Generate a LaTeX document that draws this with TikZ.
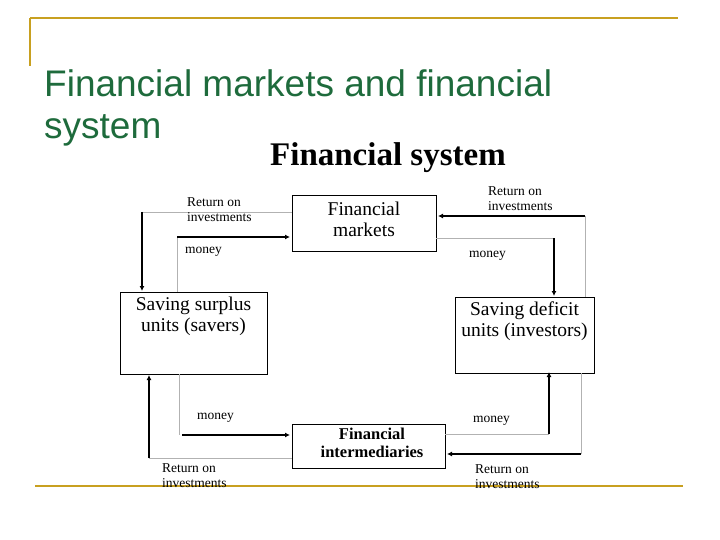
\documentclass[tikz,border=0pt]{standalone}
\usepackage{fontspec}
\setmainfont{Liberation Serif}
\newfontfamily\titlefont{Liberation Sans}
\usetikzlibrary{arrows.meta}
\definecolor{gold}{HTML}{C8A020}
\definecolor{tgreen}{HTML}{1E6B3C}
\begin{document}
\begin{tikzpicture}[x=1pt,y=-1pt,
  box/.style={draw,line width=0.7pt,inner sep=0pt},
  thin/.style={draw=gray!60,line width=0.6pt},
  arr/.style={draw,line width=1.4pt,-{Latex[length=5pt,width=5pt]}},
  lbl/.style={font=\fontsize{13.5}{15}\selectfont,anchor=west,align=left,inner sep=0pt},
  btxt/.style={font=\fontsize{19.5}{21}\selectfont,align=center,inner sep=0pt}]
\useasboundingbox (0,0) rectangle (720,540);
\fill[white] (0,0) rectangle (720,540);
\draw[gold,line width=2.5pt] (30,18) -- (678,18);
\draw[gold,line width=2.5pt] (30,18) -- (30,66);
\draw[gold,line width=2.5pt] (35,486) -- (683,486);
\node[anchor=base west,inner sep=0pt,text=tgreen,font=\titlefont\fontsize{37}{42}\selectfont] (title) at (44,97) {Financial markets and financial};
\node[anchor=base west,inner sep=0pt,text=tgreen,font=\titlefont\fontsize{37}{42}\selectfont] (title2) at (44,139) {system};
\node[font=\bfseries\fontsize{33}{36}\selectfont,inner sep=0pt,anchor=base] (sub) at (388,166) {Financial system};
% boxes
\node[box,minimum width=144pt,minimum height=56pt] (fm) at (364,223) {};
\node[btxt] at (364,219) {Financial\\markets};
\node[box,minimum width=147pt,minimum height=82pt] (sv) at (193.5,333) {};
\node[btxt] at (193.5,316) {Saving surplus\\units (savers)};
\node[box,minimum width=139pt,minimum height=76pt] (iv) at (524.5,335) {};
\node[btxt] at (524.5,321) {Saving deficit\\units (investors)};
\node[box,minimum width=153pt,minimum height=44pt] (fi) at (368.5,446) {};
\node[font=\bfseries\fontsize{16.5}{18}\selectfont,align=center,inner sep=0pt] at (372,443) {Financial\\intermediaries};
% coordinates
\coordinate (a1) at (142,212); \coordinate (a2) at (142,291);
\coordinate (b1) at (177,237); \coordinate (b2) at (290,237);
\coordinate (c1) at (554,238); \coordinate (c2) at (554,296);
\coordinate (d1) at (585,216); \coordinate (d2) at (438,216);
\coordinate (e1) at (182,435); \coordinate (e2) at (290,435);
\coordinate (f1) at (149,458); \coordinate (f2) at (149,375);
\coordinate (g1) at (549,434); \coordinate (g2) at (549,372);
\coordinate (h1) at (581,454); \coordinate (h2) at (447,454);
% thin lines
\draw[thin] (fm.west |- a1) -- (a1);
\draw[thin] (b1) -- (177,292);
\draw[thin] (fm.east |- c1) -- (c1);
\draw[thin] (585,297) -- (d1);
\draw[thin] (179,374) -- (179,435);
\draw[thin] (fi.west |- f1) -- (f1);
\draw[thin] (fi.east |- g1) -- (g1);
\draw[thin] (581,373) -- (h1);
% arrows
\draw[arr] (a1) -- (a2);
\draw[arr] (b1) -- (b2);
\draw[arr] (c1) -- (c2);
\draw[arr] (d1) -- (d2);
\draw[arr] (e1) -- (e2);
\draw[arr] (f1) -- (f2);
\draw[arr] (g1) -- (g2);
\draw[arr] (h1) -- (h2);
% labels
\node[lbl] (l1) at (187,210) {Return on\\investments};
\node[lbl] (l2) at (185,252) {money};
\node[lbl] (l3) at (488,199) {Return on\\investments};
\node[lbl] (l4) at (469,256) {money};
\node[lbl] (l5) at (197,418) {money};
\node[lbl] (l6) at (162,476) {Return on\\investments};
\node[lbl] (l7) at (473,421) {money};
\node[lbl] (l8) at (475,477) {Return on\\investments};
\end{tikzpicture}
\end{document}
